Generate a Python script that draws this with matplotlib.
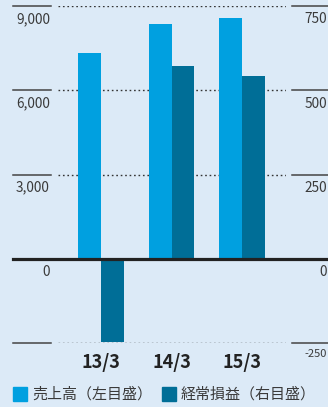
import matplotlib
matplotlib.use("Agg")
import matplotlib.pyplot as plt
import matplotlib.transforms as mtransforms
from matplotlib.patches import Rectangle
from matplotlib.lines import Line2D
import numpy as np

categories = ["13/3", "14/3", "15/3"]
sales = [7320, 8360, 8570]          # 売上高 (left axis)
profit = [-246, 571, 542]           # 経常損益 (right axis)
left_ticks = [0, 3000, 6000, 9000]
left_labels = ["0", "3,000", "6,000", "9,000"]
right_ticks = [-250, 0, 250, 500, 750]
right_labels = ["-250", "0", "250", "500", "750"]
legend_labels = ["売上高（左目盛）", "経常損益（右目盛）"]

BG = "#DCEAF7"
C1 = "#00A0E0"
C2 = "#006E97"
TXT = "#3a3a3a"

plt.rcParams['font.family'] = ['Noto Sans CJK JP', 'DejaVu Sans']

W, H = 328, 407
fig = plt.figure(figsize=(W / 100, H / 100), dpi=100, facecolor=BG)

def fx(px):
    return px / W

def fy(py):
    return (H - py) / H

ax = fig.add_axes([fx(58), fy(343), fx(286) - fx(58), fy(6) - fy(343)])
ax.set_facecolor("none")
ax.set_ylim(-3000, 9000)
ax.set_xlim(-0.61, 2.624)
for s in ax.spines.values():
    s.set_visible(False)
ax.set_xticks([])
ax.set_yticks([])

ax2 = ax.twinx()
ax2.set_ylim(-250, 750)
for s in ax2.spines.values():
    s.set_visible(False)
ax2.set_yticks([])

x = np.arange(len(categories))
w = 0.326

# dotted gridlines + solid side segments
blend = mtransforms.blended_transform_factory(fig.transFigure, ax.transData)
for v in [-3000, 3000, 6000, 9000]:
    ax.axhline(v, color="#333333", lw=1.0, ls=(0, (1.2, 2.0)), zorder=1)
    ax.add_line(Line2D([fx(13), fx(51)], [v, v], transform=blend, color="#444444",
                       lw=1.1, clip_on=False, zorder=1))
    ax.add_line(Line2D([fx(292), fx(328)], [v, v], transform=blend, color="#444444",
                       lw=1.1, clip_on=False, zorder=1))

ax.bar(x - w / 2, sales, w, color=C1, zorder=2)
ax2.bar(x + w / 2, profit, w, color=C2, zorder=2)

# zero line
blend2 = mtransforms.blended_transform_factory(fig.transFigure, ax2.transData)
ax2.add_line(Line2D([fx(13), fx(328)], [0, 0], transform=blend2, color="#222222",
                    lw=2.3, clip_on=False, zorder=5))

# left tick labels
for v, lab in zip(left_ticks, left_labels):
    ax.annotate(lab, xy=(fx(50), v), xycoords=blend, xytext=(0, -4.5),
                textcoords="offset points", ha="right", va="top",
                fontsize=9.8, color=TXT)
# right tick labels
for v, lab in zip(right_ticks, right_labels):
    fs = 8.0 if v < 0 else 9.8
    ax2.annotate(lab, xy=(fx(327), v), xycoords=blend2, xytext=(0, -4.5),
                 textcoords="offset points", ha="right", va="top",
                 fontsize=fs, color=TXT)

# category labels
blend3 = mtransforms.blended_transform_factory(ax.transData, fig.transFigure)
weights = ["semibold", "semibold", "bold"]
for xi, lab, wt in zip(x, categories, weights):
    ax.text(xi, fy(362), lab, transform=blend3, ha="center", va="center",
            fontsize=13, fontweight=wt, color="#222222")

# legend
for (px0, col, tx, lab) in [(13, C1, 32, legend_labels[0]), (162, C2, 181, legend_labels[1])]:
    fig.add_artist(Rectangle((fx(px0), fy(401)), fx(14), 14 / H, color=col,
                             transform=fig.transFigure))
    fig.text(fx(tx), fy(394), lab, ha="left", va="center", fontsize=10.8, color=TXT)

fig.savefig("out.png", dpi=100, facecolor=BG)
